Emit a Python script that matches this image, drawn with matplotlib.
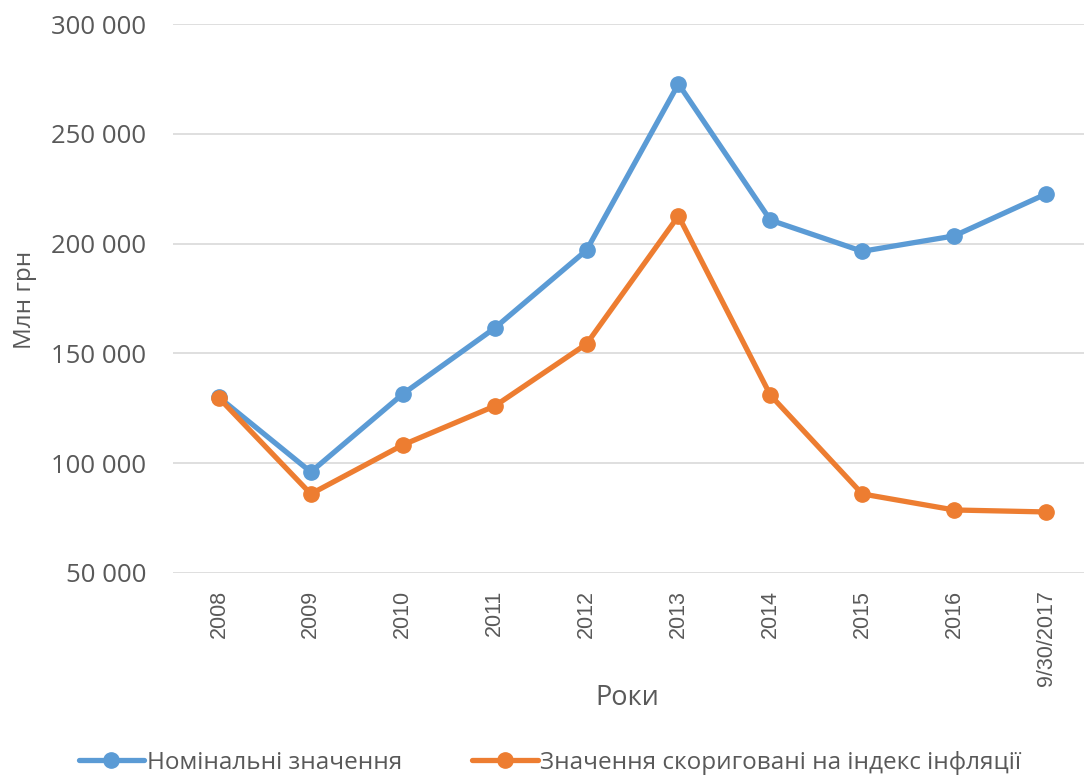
import matplotlib
matplotlib.use("Agg")
import matplotlib.pyplot as plt

categories = ["2008", "2009", "2010", "2011", "2012", "2013", "2014", "2015", "2016", "9/30/2017"]
nominal = [130000, 96000, 131500, 161500, 197000, 272700, 210700, 196500, 203500, 222600]
adjusted = [129700, 86000, 108300, 126000, 154300, 212600, 131000, 86000, 78700, 77800]
yticks = [50000, 100000, 150000, 200000, 250000, 300000]
ytick_labels = ["50 000", "100 000", "150 000", "200 000", "250 000", "300 000"]

blue = "#5B9BD5"
orange = "#ED7D31"
grey = "#595959"

plt.rcParams['font.family'] = ['Open Sans', 'DejaVu Sans']

fig = plt.figure(figsize=(10.84, 7.78), dpi=100)
W, H = 1084, 778
left, right, top, bottom = 173, 1092, 24, 573
ax = fig.add_axes([left / W, 1 - bottom / H, (right - left) / W, (bottom - top) / H])

x = list(range(len(categories)))
ax.plot(x, nominal, color=blue, lw=3.8, marker="o", ms=11, label="Номінальні значення",
        solid_capstyle="round", zorder=3)
ax.plot(x, adjusted, color=orange, lw=3.8, marker="o", ms=11,
        label="Значення скориговані на індекс інфляції", solid_capstyle="round", zorder=3)

ax.set_xlim(-0.5, len(categories) - 0.5)
ax.set_ylim(50000, 300000)
ax.set_yticks(yticks)
ax.set_yticklabels(ytick_labels, fontsize=18.5, color=grey)
ax.set_xticks(x)
ax.set_xticklabels(categories, rotation=90, fontsize=15.5, color=grey,
                   family=['Liberation Sans', 'DejaVu Sans'])
ax.tick_params(axis="both", length=0)
ax.tick_params(axis="y", pad=19)
ax.tick_params(axis="x", pad=12)
ax.grid(axis="y", color="#D9D9D9", lw=1.2)
ax.set_axisbelow(True)
for s in ax.spines.values():
    s.set_visible(False)

fig.text(25 / W, 1 - 300 / H, "Млн грн", rotation=90, ha="center", va="center",
         fontsize=17.5, color=grey)
fig.text(627 / W, 1 - 698 / H, "Роки", ha="center", va="center", fontsize=19.5, color=grey)

leg = fig.legend(loc="center", bbox_to_anchor=(550 / W, 1 - 763 / H), ncol=2, frameon=False,
                 fontsize=17.5, handlelength=2.7, columnspacing=2.9, handletextpad=0.1,
                 labelcolor=grey, markerscale=1)

fig.savefig("out.png", dpi=100)
